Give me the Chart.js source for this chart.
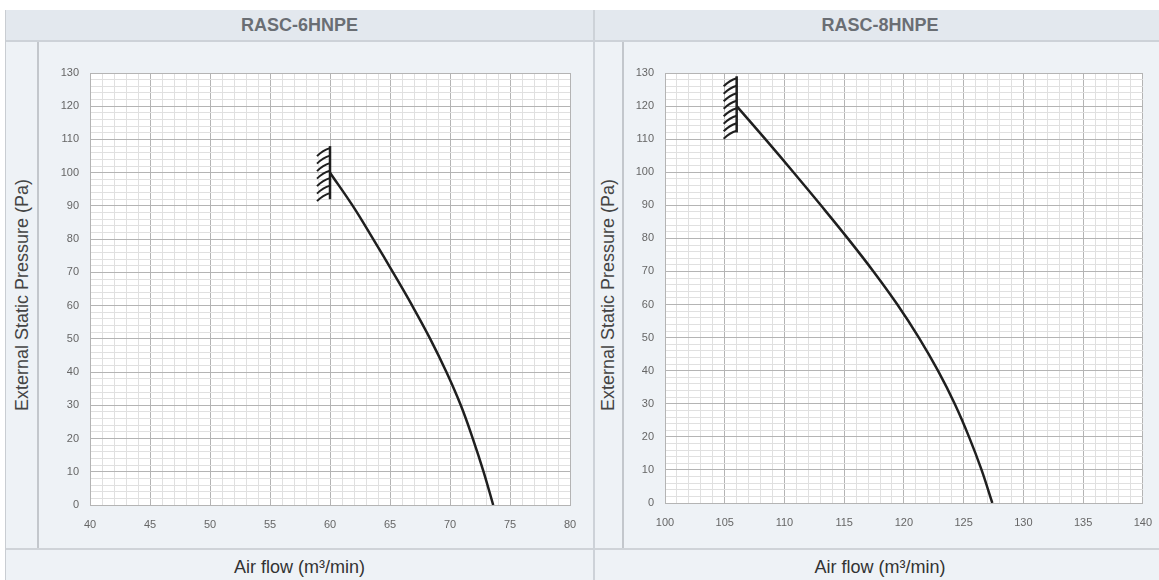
<!DOCTYPE html>
<html>
<head>
<meta charset="utf-8">
<script src="https://cdn.jsdelivr.net/npm/chart.js@4/dist/chart.umd.min.js"></script>
<style>
	body {
		margin: 0;
		width: 1159px;
		height: 580px;
		overflow: hidden;
		position: relative;
		background: #fff;
		font-family: 'Liberation Sans', Arial, sans-serif;
	}
	.frame {
		position: absolute;
		left: 5px;
		top: 10px;
		width: 1160px;
		height: 580px;
		background: #eef2f6;
		border: 1px solid #c9cdd2;
		box-sizing: border-box;
	}
	.header {
		position: absolute;
		top: 10px;
		height: 32px;
		background: #e3e8ee;
		border-bottom: 2px solid #cdd2d8;
		box-sizing: border-box;
		text-align: center;
		line-height: 31px;
		font-weight: bold;
		font-size: 18px;
		color: #6a6e74;
	}
	.divider {
		position: absolute;
		top: 10px;
		width: 2px;
		height: 570px;
		background: #cdd2d8;
	}
	.side {
		position: absolute;
		top: 42px;
		width: 2px;
		height: 506px;
		background: #c3c7cc;
	}
	.footer {
		position: absolute;
		top: 548px;
		height: 32px;
		border-top: 2px solid #cfd3d8;
		box-sizing: border-box;
		text-align: center;
		line-height: 34px;
		font-size: 18px;
		color: #333;
	}
	.ytitle {
		position: absolute;
		top: 295px;
		white-space: nowrap;
		font-size: 18px;
		color: #444;
		transform: translate(-50%, -50%) rotate(-90deg);
	}
	.chart-box {
		position: absolute;
		top: 44px;
		height: 503px;
	}
</style>
</head>
<body>
<div class="frame"></div>
<div class="header" style="left:6px;width:587px;">RASC-6HNPE</div>
<div class="header" style="left:595px;width:570px;">RASC-8HNPE</div>
<div class="divider" style="left:593px;"></div>
<div class="side" style="left:37px;"></div>
<div class="side" style="left:622px;"></div>
<div class="ytitle" style="left:22px;">External Static Pressure (Pa)</div>
<div class="ytitle" style="left:608px;">External Static Pressure (Pa)</div>
<div class="footer" style="left:6px;width:587px;">Air flow (m³/min)</div>
<div class="footer" style="left:595px;width:570px;">Air flow (m³/min)</div>
<div class="chart-box" style="left:40px;width:552px;"><canvas id="chart6"></canvas></div>
<div class="chart-box" style="left:625px;width:540px;"><canvas id="chart8"></canvas></div>

<script>
// RASC-6HNPE fan curve
const FLOW_6 = [60, 61.9, 63.6, 65.25, 66.85, 68.35, 69.7, 70.9, 71.9, 72.8, 73.6];
const PRESSURE_6 = [100, 90, 80, 70, 60, 50, 40, 30, 20, 10, 0];
const LIMIT_FLOW_6 = [60, 60];
const LIMIT_PRESSURE_6 = [92, 108];
const X_RANGE_6 = [40, 80];

// RASC-8HNPE fan curve
const FLOW_8 = [106, 108.4, 110.75, 113.05, 115.3, 117.45, 119.45, 121.25, 122.85, 124.25, 125.45, 126.5, 127.4];
const PRESSURE_8 = [120, 110, 100, 90, 80, 70, 60, 50, 40, 30, 20, 10, 0];
const LIMIT_FLOW_8 = [106, 106];
const LIMIT_PRESSURE_8 = [112, 129];
const X_RANGE_8 = [100, 140];

const Y_RANGE = [0, 130];
const X_MAJOR = 5;
const Y_MAJOR = 10;

const MAJOR_GRID = '#b4b4b4';
const MINOR_GRID = '#e0e0e0';
const CURVE_COLOR = '#1f1f1f';

function toPoints(xs, ys) {
	return xs.map((x, i) => ({ x: x, y: ys[i] }));
}

// white plot background
const plotBackground = {
	id: 'plotBackground',
	beforeDraw(chart) {
		const { ctx, chartArea } = chart;
		ctx.save();
		ctx.fillStyle = '#fff';
		ctx.fillRect(chartArea.left, chartArea.top, chartArea.width, chartArea.height);
		ctx.restore();
	},
};

// short slanted strokes on the left of the limit line
const hatchMarks = {
	id: 'hatchMarks',
	afterDatasetsDraw(chart) {
		const { ctx } = chart;
		chart.data.datasets.forEach((dataset, i) => {
			if (!dataset.hatch) return;
			const pts = chart.getDatasetMeta(i).data;
			const x = pts[0].x;
			const top = Math.min(pts[0].y, pts[1].y);
			const bottom = Math.max(pts[0].y, pts[1].y);
			ctx.save();
			ctx.strokeStyle = CURVE_COLOR;
			ctx.lineWidth = 2;
			for (let y = top + 2; y <= bottom; y += 7.5) {
				ctx.beginPath();
				ctx.moveTo(x, y);
				ctx.quadraticCurveTo(x - 7, y + 2, x - 13, y + 8);
				ctx.stroke();
			}
			ctx.restore();
		});
	},
};

function gridColor(major) {
	return c => (c.tick && c.tick.value % major === 0 ? MAJOR_GRID : MINOR_GRID);
}

function buildChart(canvasId, flow, pressure, limitFlow, limitPressure, xRange, yWidth, xHeight, rightPad) {
	const ctx = document.getElementById(canvasId).getContext('2d');
	return new Chart(ctx, {
		type: 'line',
		data: {
			datasets: [
				{
					data: toPoints(flow, pressure),
					borderColor: CURVE_COLOR,
					borderWidth: 2.5,
					pointRadius: 0,
					tension: 0.4,
					fill: false,
				},
				{
					data: toPoints(limitFlow, limitPressure),
					borderColor: CURVE_COLOR,
					borderWidth: 2.5,
					pointRadius: 0,
					hatch: true,
				},
			],
		},
		options: {
			responsive: true,
			maintainAspectRatio: false,
			animation: false,
			layout: {
				padding: { top: 29, right: rightPad, left: 0, bottom: 0 },
			},
			plugins: {
				legend: { display: false },
				tooltip: { enabled: false },
			},
			scales: {
				x: {
					type: 'linear',
					min: xRange[0],
					max: xRange[1],
					afterFit: s => { s.height = xHeight; },
					ticks: {
						stepSize: 1,
						autoSkip: false,
						maxRotation: 0,
						padding: 13,
						color: '#666',
						font: { family: 'Liberation Sans', size: 11 },
						callback: v => (v % X_MAJOR === 0 ? v : ''),
					},
					grid: { color: gridColor(X_MAJOR), drawTicks: false },
					border: { color: MAJOR_GRID },
				},
				y: {
					type: 'linear',
					min: Y_RANGE[0],
					max: Y_RANGE[1],
					afterFit: s => { s.width = yWidth; },
					ticks: {
						stepSize: 2,
						autoSkip: false,
						padding: 11,
						color: '#666',
						font: { family: 'Liberation Sans', size: 11 },
						callback: v => (v % Y_MAJOR === 0 ? v : ''),
					},
					grid: { color: gridColor(Y_MAJOR), drawTicks: false },
					border: { color: MAJOR_GRID },
				},
			},
		},
		plugins: [plotBackground, hatchMarks],
	});
}

const chart6 = buildChart('chart6', FLOW_6, PRESSURE_6, LIMIT_FLOW_6, LIMIT_PRESSURE_6, X_RANGE_6, 50, 42, 22);
const chart8 = buildChart('chart8', FLOW_8, PRESSURE_8, LIMIT_FLOW_8, LIMIT_PRESSURE_8, X_RANGE_8, 40, 44, 18);
</script>
</body>
</html>
